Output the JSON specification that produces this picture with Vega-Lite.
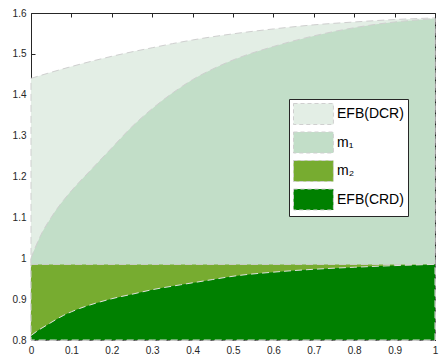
{
  "$schema": "https://vega.github.io/schema/vega-lite/v6.json",
  "width": 404,
  "height": 327,
  "autosize": "none",
  "padding": {"left": 31, "top": 13, "right": 10, "bottom": 20},
  "background": "white",
  "config": {
    "view": {"stroke": null},
    "font": "Liberation Sans",
    "axis": {
      "labelFont": "Liberation Sans",
      "labelFontSize": 10,
      "labelColor": "#262626",
      "domainColor": "#262626",
      "tickColor": "#262626",
      "grid": false,
      "tickSize": -4,
      "domainWidth": 1,
      "tickWidth": 1
    }
  },
  "datasets": {
    "curves": [
      {"series": "EFB(DCR)", "x": 0, "y": 1.44},
      {"series": "EFB(DCR)", "x": 0.05, "y": 1.455},
      {"series": "EFB(DCR)", "x": 0.1, "y": 1.469},
      {"series": "EFB(DCR)", "x": 0.15, "y": 1.482},
      {"series": "EFB(DCR)", "x": 0.2, "y": 1.494},
      {"series": "EFB(DCR)", "x": 0.25, "y": 1.505},
      {"series": "EFB(DCR)", "x": 0.3, "y": 1.515},
      {"series": "EFB(DCR)", "x": 0.35, "y": 1.525},
      {"series": "EFB(DCR)", "x": 0.4, "y": 1.534},
      {"series": "EFB(DCR)", "x": 0.45, "y": 1.542},
      {"series": "EFB(DCR)", "x": 0.5, "y": 1.549},
      {"series": "EFB(DCR)", "x": 0.6, "y": 1.561},
      {"series": "EFB(DCR)", "x": 0.7, "y": 1.571},
      {"series": "EFB(DCR)", "x": 0.8, "y": 1.578},
      {"series": "EFB(DCR)", "x": 0.9, "y": 1.584},
      {"series": "EFB(DCR)", "x": 1, "y": 1.588},
      {"series": "m₁", "x": 0, "y": 1.0},
      {"series": "m₁", "x": 0.01, "y": 1.025},
      {"series": "m₁", "x": 0.025, "y": 1.058},
      {"series": "m₁", "x": 0.05, "y": 1.1},
      {"series": "m₁", "x": 0.075, "y": 1.135},
      {"series": "m₁", "x": 0.1, "y": 1.165},
      {"series": "m₁", "x": 0.15, "y": 1.218},
      {"series": "m₁", "x": 0.2, "y": 1.27},
      {"series": "m₁", "x": 0.25, "y": 1.322},
      {"series": "m₁", "x": 0.3, "y": 1.366},
      {"series": "m₁", "x": 0.35, "y": 1.404},
      {"series": "m₁", "x": 0.4, "y": 1.437},
      {"series": "m₁", "x": 0.45, "y": 1.463},
      {"series": "m₁", "x": 0.5, "y": 1.485},
      {"series": "m₁", "x": 0.6, "y": 1.518},
      {"series": "m₁", "x": 0.7, "y": 1.544},
      {"series": "m₁", "x": 0.8, "y": 1.564},
      {"series": "m₁", "x": 0.9, "y": 1.578},
      {"series": "m₁", "x": 1, "y": 1.586},
      {"series": "m₂", "x": 0, "y": 0.985},
      {"series": "m₂", "x": 1, "y": 0.985},
      {"series": "EFB(CRD)", "x": 0, "y": 0.811},
      {"series": "EFB(CRD)", "x": 0.02, "y": 0.825},
      {"series": "EFB(CRD)", "x": 0.04, "y": 0.837},
      {"series": "EFB(CRD)", "x": 0.06, "y": 0.849},
      {"series": "EFB(CRD)", "x": 0.08, "y": 0.86},
      {"series": "EFB(CRD)", "x": 0.1, "y": 0.869},
      {"series": "EFB(CRD)", "x": 0.12, "y": 0.877},
      {"series": "EFB(CRD)", "x": 0.16, "y": 0.89},
      {"series": "EFB(CRD)", "x": 0.2, "y": 0.901},
      {"series": "EFB(CRD)", "x": 0.25, "y": 0.912},
      {"series": "EFB(CRD)", "x": 0.3, "y": 0.923},
      {"series": "EFB(CRD)", "x": 0.37, "y": 0.935},
      {"series": "EFB(CRD)", "x": 0.45, "y": 0.948},
      {"series": "EFB(CRD)", "x": 0.5, "y": 0.956},
      {"series": "EFB(CRD)", "x": 0.6, "y": 0.966},
      {"series": "EFB(CRD)", "x": 0.7, "y": 0.973},
      {"series": "EFB(CRD)", "x": 0.8, "y": 0.978},
      {"series": "EFB(CRD)", "x": 0.9, "y": 0.982},
      {"series": "EFB(CRD)", "x": 1, "y": 0.985}
    ]
  },
  "data": {"name": "curves"},
  "resolve": {"axis": {"x": "independent", "y": "independent"}},
  "layer": [
    {
      "transform": [{"filter": "datum.series === 'EFB(DCR)'"}],
      "mark": {"type": "area", "interpolate": "monotone", "stroke": "#cfcfcf", "strokeWidth": 1, "strokeDash": [7, 4], "opacity": 1, "fillOpacity": 1},
      "encoding": {
        "x": {"field": "x", "type": "quantitative", "scale": {"domain": [0, 1], "nice": false, "zero": false},
              "axis": {"orient": "bottom", "title": null, "values": [0, 0.1, 0.2, 0.3, 0.4, 0.5, 0.6, 0.7, 0.8, 0.9, 1], "format": "~g", "labelPadding": 9, "labelFlush": false}},
        "y": {"field": "y", "type": "quantitative", "scale": {"domain": [0.8, 1.6], "nice": false, "zero": false},
              "axis": {"orient": "left", "title": null, "values": [0.8, 0.9, 1, 1.1, 1.2, 1.3, 1.4, 1.5, 1.6], "format": "~g", "labelPadding": 9, "labelFlush": false}},
        "y2": {"datum": 0.8},
        "color": {"field": "series", "type": "nominal",
                  "scale": {"domain": ["EFB(DCR)", "m₁", "m₂", "EFB(CRD)"], "range": ["#e3eee5", "#c2dec8", "#77ac30", "#008000"]},
                  "legend": {"title": null, "orient": "none", "legendX": 258, "legendY": 86,
                             "symbolType": "M-1,-1H2.8V1H-1Z", "symbolSize": 441,
                             "symbolStrokeColor": "#cccccc", "symbolStrokeWidth": 1, "symbolDash": [4, 3], "symbolOpacity": 1,
                             "labelFont": "Liberation Sans", "labelFontSize": 14, "labelColor": "#000000", "labelOffset": 22,
                             "rowPadding": 2.5, "padding": 4, "strokeColor": "#262626", "fillColor": "white"}}
      }
    },
    {
      "transform": [{"filter": "datum.series === 'm₁'"}],
      "mark": {"type": "area", "interpolate": "monotone", "stroke": "#cfcfcf", "strokeWidth": 1, "strokeDash": [7, 4], "opacity": 1, "fillOpacity": 1},
      "encoding": {
        "x": {"field": "x", "type": "quantitative",
              "axis": {"orient": "top", "title": null, "values": [0, 0.1, 0.2, 0.3, 0.4, 0.5, 0.6, 0.7, 0.8, 0.9, 1], "labels": false}},
        "y": {"field": "y", "type": "quantitative",
              "axis": {"orient": "right", "title": null, "values": [0.8, 0.9, 1, 1.1, 1.2, 1.3, 1.4, 1.5, 1.6], "labels": false}},
        "y2": {"datum": 0.8},
        "color": {"field": "series", "type": "nominal"}
      }
    },
    {
      "transform": [{"filter": "datum.series === 'm₂'"}],
      "mark": {"type": "area", "stroke": "#cfcfcf", "strokeWidth": 1, "strokeDash": [7, 4], "opacity": 1, "fillOpacity": 1},
      "encoding": {
        "x": {"field": "x", "type": "quantitative", "axis": null},
        "y": {"field": "y", "type": "quantitative", "axis": null},
        "y2": {"datum": 0.8},
        "color": {"field": "series", "type": "nominal"}
      }
    },
    {
      "transform": [{"filter": "datum.series === 'EFB(CRD)'"}],
      "mark": {"type": "area", "interpolate": "monotone", "stroke": "#e0e0e0", "strokeWidth": 1, "strokeDash": [7, 4], "opacity": 1, "fillOpacity": 1},
      "encoding": {
        "x": {"field": "x", "type": "quantitative", "axis": null},
        "y": {"field": "y", "type": "quantitative", "axis": null},
        "y2": {"datum": 0.8},
        "color": {"field": "series", "type": "nominal"}
      }
    }
  ]
}
